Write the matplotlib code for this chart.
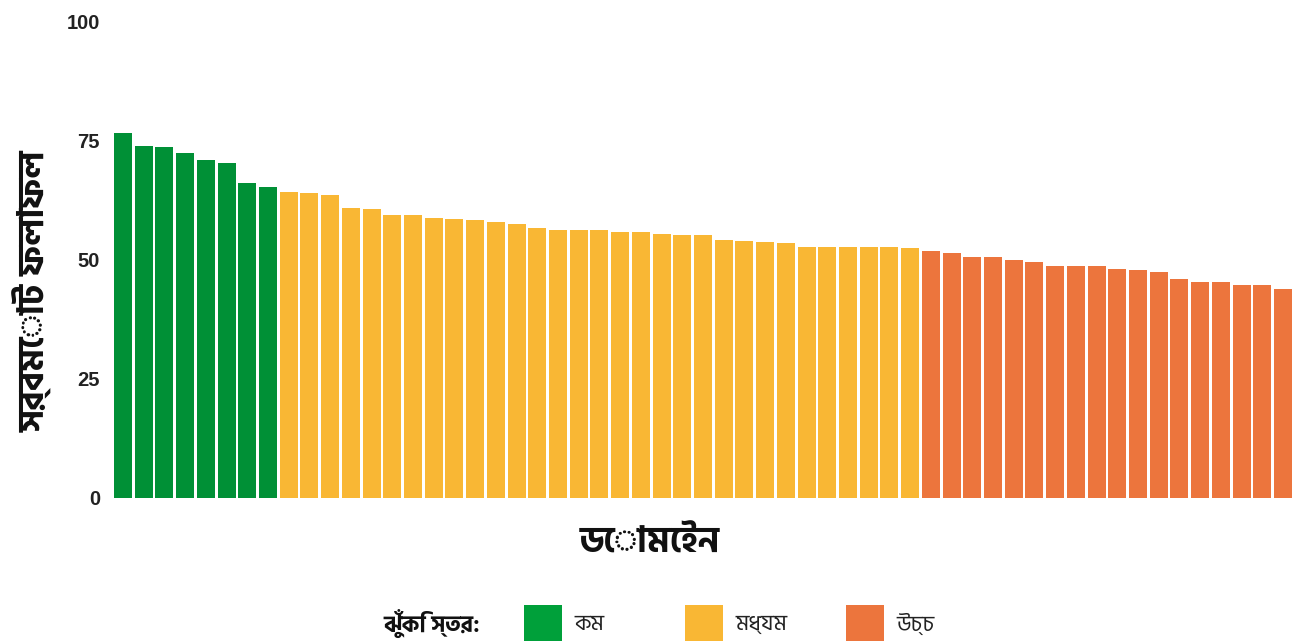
import matplotlib
matplotlib.use('Agg')
import matplotlib.pyplot as plt
from matplotlib.patches import Rectangle

# values, sorted high to low
low_scores = [76.6, 73.9, 73.6, 72.4, 70.9, 70.3, 66.1, 65.2]
medium_scores = [64.2, 64.0, 63.5, 60.8, 60.6, 59.3, 59.3, 58.7, 58.5, 58.3,
                 57.8, 57.4, 56.6, 56.2, 56.2, 56.2, 55.8, 55.8, 55.4, 55.1,
                 55.1, 54.1, 53.9, 53.7, 53.4, 52.6, 52.6, 52.6, 52.6, 52.6,
                 52.4]
high_scores = [51.8, 51.4, 50.6, 50.6, 49.9, 49.5, 48.7, 48.7, 48.7, 48.1,
               47.9, 47.3, 46.0, 45.4, 45.2, 44.6, 44.6, 43.9]

y_ticks = [0, 25, 50, 75, 100]
y_label = 'সর্বমোট ফলাফল'
x_label = 'ডোমেইন'
legend_title = 'ঝুঁকি স্তর:'
legend_labels = ['কম', 'মধ্যম', 'উচ্চ']
colors = ['#009036', '#F9B734', '#EC753D']
legend_colors = ['#00A03A', '#F9B734', '#EC753D']

families = ['Hind Siliguri', 'Noto Sans Bengali', 'DejaVu Sans']
num_font = ['Liberation Sans', 'DejaVu Sans']

fig = plt.figure(figsize=(13.03, 6.41), dpi=100)
W, H = 1303, 641
ax = fig.add_axes([114 / W, 1 - 497.7 / H, (1292 - 114) / W, (497.7 - 21.5) / H])

groups = [low_scores, medium_scores, high_scores]
bar_w = 0.87
start = 0
for vals, col in zip(groups, colors):
    xs = list(range(start, start + len(vals)))
    ax.bar(xs, vals, width=bar_w, color=col, linewidth=0)
    start += len(vals)

ax.set_xlim(-bar_w / 2, start - 1 + bar_w / 2)
ax.set_ylim(0, 100)
ax.set_yticks(y_ticks)
ax.set_yticklabels([str(t) for t in y_ticks], family=num_font,
                   fontweight='bold', fontsize=14.5, color='#222222')
ax.set_xticks([])
ax.tick_params(axis='y', length=0, pad=10)
for s in ax.spines.values():
    s.set_visible(False)

fig.text(33 / W, 1 - 291 / H, y_label, rotation=90, ha='center', va='center',
         family=families, fontweight='bold', fontsize=26, color='#111111')
fig.text(650 / W, 1 - 543 / H, x_label, ha='center', va='center',
         family=families, fontweight='bold', fontsize=26, color='#111111')

# legend at the bottom
fig.text(480 / W, 1 - 624 / H, legend_title, ha='right', va='center',
         family=families, fontweight='bold', fontsize=16.5, color='#111111')
for i, (lab, col) in enumerate(zip(legend_labels, legend_colors)):
    x0 = 524 + i * 161
    fig.add_artist(Rectangle((x0 / W, 1 - 641 / H), 38 / W, 36 / H,
                             transform=fig.transFigure, color=col, lw=0))
    fig.text((x0 + 50) / W, 1 - 624 / H, lab, ha='left', va='center',
             family=families, fontsize=16, color='#222222')

fig.savefig('out.png', dpi=100, facecolor='white')
